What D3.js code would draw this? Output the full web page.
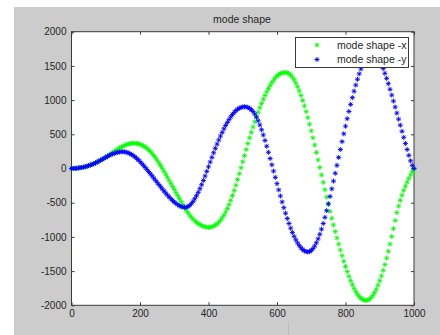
<!DOCTYPE html>
<html>
<head>
<meta charset="utf-8">
<script src="https://cdn.jsdelivr.net/npm/d3@7"></script>
<style>
  body { margin: 0; background: #fff; }
  svg { display: block; }
  text { font-family: "Liberation Sans", Arial, sans-serif; fill: #262626; }
</style>
</head>
<body>
<svg id="chart" width="440" height="335"></svg>
<script>
// sample spacing along the beam (0..1000)
const sampleStep = 5;

const modeShapeX = [
  0, 1, 2, 4, 7, 11, 15, 20, 26, 33, 41, 50, 60, 70, 82, 94, 107, 121, 135, 150,
  166, 182, 198, 215, 232, 249, 266, 282, 298, 312, 325, 337, 347, 356, 362, 367, 370, 369, 366, 361,
  354, 344, 331, 315, 296, 274, 249, 221, 190, 157, 121, 83, 43, 2, -40, -83, -127, -172, -217, -262,
  -307, -352, -396, -440, -483, -527, -570, -610, -647, -681, -712, -740, -765, -787, -806, -822, -835, -845, -852, -857,
  -860, -858, -852, -842, -828, -810, -786, -757, -722, -682, -636, -584, -527, -464, -396, -322, -244, -162, -77, 10,
  99, 188, 277, 364, 448, 529, 607, 682, 754, 823, 889, 952, 1012, 1068, 1121, 1170, 1215, 1256, 1293, 1325,
  1352, 1373, 1388, 1397, 1401, 1402, 1400, 1388, 1366, 1335, 1296, 1249, 1195, 1134, 1067, 994, 915, 831, 742, 648,
  550, 448, 343, 235, 125, 15, -94, -203, -311, -418, -523, -626, -727, -826, -922, -1015, -1105, -1192, -1275, -1355,
  -1432, -1505, -1575, -1640, -1699, -1753, -1800, -1840, -1872, -1897, -1915, -1926, -1930, -1925, -1910, -1888, -1855, -1815, -1765, -1705,
  -1640, -1570, -1490, -1405, -1310, -1210, -1105, -995, -880, -760, -645, -550, -465, -390, -320, -258, -200, -146, -95, -47,
  0
];

const modeShapeY = [
  0, 1, 2, 4, 7, 11, 15, 20, 26, 33, 41, 50, 60, 70, 82, 94, 107, 121, 135, 149,
  163, 177, 190, 202, 213, 222, 230, 237, 241, 244, 245, 243, 238, 230, 219, 205, 189, 170, 149, 126,
  101, 74, 46, 17, -13, -44, -75, -107, -139, -171, -203, -235, -267, -298, -329, -359, -388, -416, -442, -467,
  -490, -511, -529, -545, -557, -565, -568, -566, -558, -540, -514, -481, -442, -398, -349, -295, -237, -175, -110, -43,
  25, 95, 163, 230, 295, 357, 417, 474, 528, 580, 628, 673, 715, 755, 790, 820, 846, 866, 882, 893,
  900, 902, 900, 893, 880, 860, 833, 797, 752, 698, 636, 566, 490, 410, 325, 237, 146, 54, -38, -130,
  -222, -313, -402, -489, -573, -654, -731, -804, -872, -935, -993, -1043, -1088, -1127, -1160, -1186, -1204, -1215, -1220, -1215,
  -1198, -1171, -1134, -1086, -1029, -962, -887, -804, -714, -617, -516, -409, -298, -184, -70, 46, 162, 278, 393, 507,
  619, 728, 834, 937, 1036, 1130, 1220, 1305, 1384, 1456, 1521, 1578, 1627, 1665, 1692, 1706, 1705, 1690, 1664, 1628,
  1582, 1526, 1462, 1392, 1318, 1240, 1158, 1073, 986, 898, 810, 722, 633, 544, 455, 366, 278, 192, 112, 45,
  0
];

const xTicks = [0, 200, 400, 600, 800, 1000];
const yTicks = [-2000, -1500, -1000, -500, 0, 500, 1000, 1500, 2000];
const seriesNames = ["mode shape -x", "mode shape -y"];
const seriesColors = ["#00ff00", "#0000ff"];
const chartTitle = "mode shape";

const svg = d3.select("#chart");
const W = +svg.attr("width");
const H = +svg.attr("height");

// figure window (grey) area
svg.append("rect")
  .attr("x", 14).attr("y", 7)
  .attr("width", W - 14).attr("height", H - 7)
  .attr("fill", "#cccccc");

svg.append("line")
  .attr("x1", 288.5).attr("x2", 288.5)
  .attr("y1", 322).attr("y2", H)
  .attr("stroke", "#bdbdbd").attr("stroke-width", 1);

const plot = { left: 71.5, right: 414, top: 31.7, bottom: 305.3 };

const x = d3.scaleLinear().domain([0, 1000]).range([plot.left, plot.right]);
const y = d3.scaleLinear().domain([-2000, 2000]).range([plot.bottom, plot.top]);

svg.append("rect")
  .attr("x", plot.left).attr("y", plot.top)
  .attr("width", plot.right - plot.left).attr("height", plot.bottom - plot.top)
  .attr("fill", "#fff");

const fmt = d => String(d);

function styleAxis(g) {
  g.select(".domain").remove();
  g.selectAll(".tick line").attr("stroke", "#3a3a3a");
  g.selectAll(".tick text").attr("font-size", 10).attr("fill", "#262626")
    .style("font-family", '"Liberation Sans", Arial, sans-serif');
}

svg.append("g")
  .attr("transform", `translate(0,${plot.bottom})`)
  .call(d3.axisBottom(x).tickValues(xTicks).tickFormat(fmt).tickSizeInner(-3).tickSizeOuter(0).tickPadding(5))
  .call(styleAxis);

svg.append("g")
  .attr("transform", `translate(0,${plot.top})`)
  .call(d3.axisTop(x).tickValues(xTicks).tickFormat("").tickSizeInner(-3).tickSizeOuter(0))
  .call(styleAxis);

svg.append("g")
  .attr("transform", `translate(${plot.left},0)`)
  .call(d3.axisLeft(y).tickValues(yTicks).tickFormat(fmt).tickSizeInner(-3).tickSizeOuter(0).tickPadding(5))
  .call(styleAxis);

svg.append("g")
  .attr("transform", `translate(${plot.right},0)`)
  .call(d3.axisRight(y).tickValues(yTicks).tickFormat("").tickSizeInner(-3).tickSizeOuter(0))
  .call(styleAxis);

svg.append("rect")
  .attr("x", plot.left).attr("y", plot.top)
  .attr("width", plot.right - plot.left).attr("height", plot.bottom - plot.top)
  .attr("fill", "none")
  .attr("stroke", "#3a3a3a").attr("stroke-width", 1);

// matlab style '*' marker
const r = 2.5, a = r * 0.7071;
const starPath = `M${-r},0H${r}M0,${-r}V${r}M${-a},${-a}L${a},${a}M${-a},${a}L${a},${-a}`;

[modeShapeX, modeShapeY].forEach(function (values, si) {
  svg.append("g")
    .selectAll("path")
    .data(values)
    .enter()
    .append("path")
    .attr("d", starPath)
    .attr("transform", (d, i) => `translate(${x(i * sampleStep)},${y(d)})`)
    .attr("fill", "none")
    .attr("stroke", seriesColors[si])
    .attr("stroke-width", 0.9);
});

svg.append("text")
  .attr("x", 242).attr("y", 23)
  .attr("text-anchor", "middle")
  .attr("font-size", 10.5)
  .text(chartTitle);

// legend
const legend = svg.append("g");
legend.append("rect")
  .attr("x", 295.5).attr("y", 37.5)
  .attr("width", 113).attr("height", 30)
  .attr("fill", "#fff")
  .attr("stroke", "#3a3a3a").attr("stroke-width", 1);

seriesNames.forEach(function (name, i) {
  const cy = 45 + i * 14.5;
  legend.append("path")
    .attr("d", starPath)
    .attr("transform", `translate(317,${cy})`)
    .attr("fill", "none")
    .attr("stroke", seriesColors[i])
    .attr("stroke-width", 0.9);
  legend.append("text")
    .attr("x", 337).attr("y", cy)
    .attr("dy", "0.35em")
    .attr("font-size", 10.5)
    .text(name);
});
</script>
</body>
</html>
